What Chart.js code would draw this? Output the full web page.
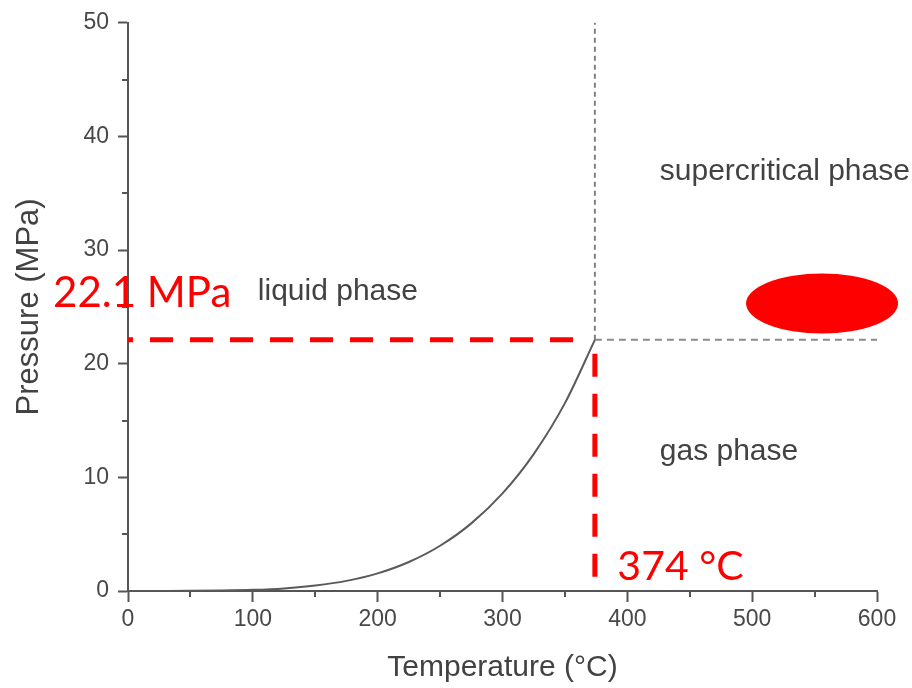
<!DOCTYPE html>
<html>
<head>
<meta charset="utf-8">
<title>Phase diagram of water</title>
<script src="https://cdn.jsdelivr.net/npm/chart.js@4/dist/chart.umd.min.js"></script>
<style>
  html, body { margin: 0; padding: 0; background: #ffffff; }
  canvas { display: block; }
</style>
</head>
<body>
<canvas id="phase" width="912" height="688"></canvas>
<script>
// Saturation (boiling) curve of water, temperature in °C and pressure in MPa
const temperatureC = [0, 25, 50, 75, 100, 125, 150, 175, 200, 225, 250, 275, 300, 325, 350, 374];
const pressureMPa  = [0.0006, 0.003, 0.012, 0.039, 0.10, 0.23, 0.48, 0.89, 1.55, 2.55, 3.98, 5.95, 8.59, 12.05, 16.53, 22.1];

// Critical point
const criticalT = 374;
const criticalP = 22.1;

// Axis ranges and tick steps
const xRange = [0, 600];
const yRange = [0, 50];
const xMajorStep = 100;
const yMajorStep = 10;

// Region names and highlighted values
const phaseNames = ['liquid phase', 'supercritical phase', 'gas phase'];
const criticalLabels = [criticalP + ' MPa', criticalT + ' °C'];

const AXIS_GREY = '#555555';
const TEXT_GREY = '#424242';
const RED = '#ff0000';
const SANS = "'Liberation Sans', Arial, Helvetica, sans-serif";

Chart.defaults.font.family = SANS;

// Positions of the free-floating text, given in data units
const textItems = [
  { text: phaseNames[0], x: 104, y: 25.6, font: '30px ' + SANS, color: TEXT_GREY },
  { text: phaseNames[1], x: 426, y: 36.2, font: '30px ' + SANS, color: TEXT_GREY },
  { text: phaseNames[2], x: 426, y: 11.5, font: '30px ' + SANS, color: TEXT_GREY },
  { text: criticalLabels[0], x: -60, y: 25.0, font: '42px Lato, Carlito, sans-serif', color: RED },
  { text: criticalLabels[1], x: 392, y: 0.96, font: '41px Lato, Carlito, sans-serif', color: RED }
];
const blob = { x: 556, y: 25.3, rx: 76, ry: 30, color: RED };

// Short unlabelled ticks halfway between the labelled ones
const minorTicks = {
  id: 'minorTicks',
  afterDraw(chart) {
    const { ctx, scales: { x, y } } = chart;
    ctx.save();
    ctx.strokeStyle = AXIS_GREY;
    ctx.lineWidth = 2;
    ctx.beginPath();
    for (let v = xRange[0] + xMajorStep / 2; v < xRange[1]; v += xMajorStep) {
      const px = Math.round(x.getPixelForValue(v));
      ctx.moveTo(px, x.top);
      ctx.lineTo(px, x.top + 6);
    }
    for (let v = yRange[0] + yMajorStep / 2; v < yRange[1]; v += yMajorStep) {
      const py = Math.round(y.getPixelForValue(v));
      ctx.moveTo(y.right, py);
      ctx.lineTo(y.right - 6, py);
    }
    ctx.stroke();
    ctx.restore();
  }
};

// Region labels, critical values and the filled red ellipse
const annotations = {
  id: 'annotations',
  afterDraw(chart) {
    const { ctx, scales: { x, y } } = chart;
    ctx.save();
    ctx.textAlign = 'left';
    ctx.textBaseline = 'alphabetic';
    textItems.forEach(t => {
      ctx.font = t.font;
      ctx.fillStyle = t.color;
      ctx.fillText(t.text, x.getPixelForValue(t.x), y.getPixelForValue(t.y));
    });
    ctx.fillStyle = blob.color;
    ctx.beginPath();
    ctx.ellipse(x.getPixelForValue(blob.x), y.getPixelForValue(blob.y), blob.rx, blob.ry, 0, 0, Math.PI * 2);
    ctx.fill();
    ctx.restore();
  }
};

const curve = temperatureC.map((t, i) => ({ x: t, y: pressureMPa[i] }));

new Chart(document.getElementById('phase'), {
  type: 'scatter',
  data: {
    datasets: [
      {
        label: 'saturation curve',
        data: curve,
        showLine: true,
        borderColor: '#5a5a5a',
        borderWidth: 2,
        pointRadius: 0,
        cubicInterpolationMode: 'monotone'
      },
      {
        label: 'critical isotherm',
        data: [{ x: criticalT, y: criticalP }, { x: criticalT, y: yRange[1] }],
        showLine: true,
        borderColor: '#808080',
        borderWidth: 2,
        borderDash: [5, 4],
        pointRadius: 0
      },
      {
        label: 'critical isobar',
        data: [{ x: criticalT, y: criticalP }, { x: xRange[1], y: criticalP }],
        showLine: true,
        borderColor: '#8a8a8a',
        borderWidth: 2,
        borderDash: [7, 5],
        pointRadius: 0
      },
      {
        label: 'critical pressure guide',
        data: [{ x: 0, y: criticalP }, { x: 365, y: criticalP }],
        showLine: true,
        borderColor: RED,
        borderWidth: 5,
        borderDash: [23, 17],
        borderDashOffset: 18,
        borderCapStyle: 'butt',
        pointRadius: 0
      },
      {
        label: 'critical temperature guide',
        data: [{ x: criticalT, y: criticalP }, { x: criticalT, y: 0 }],
        showLine: true,
        borderColor: RED,
        borderWidth: 5,
        borderDash: [23, 17],
        borderDashOffset: 26,
        borderCapStyle: 'butt',
        pointRadius: 0
      }
    ]
  },
  options: {
    responsive: false,
    animation: false,
    devicePixelRatio: 1,
    layout: { padding: { top: 20, right: 35, left: 0, bottom: 0 } },
    plugins: {
      legend: { display: false },
      tooltip: { enabled: false }
    },
    scales: {
      x: {
        type: 'linear',
        min: xRange[0],
        max: xRange[1],
        afterFit(scale) { scale.height = 97; },
        border: { display: true, color: AXIS_GREY, width: 2 },
        grid: { drawOnChartArea: false, drawTicks: true, tickLength: 11, tickColor: AXIS_GREY, tickWidth: 2 },
        ticks: { stepSize: xMajorStep, color: '#484848', font: { size: 23 }, padding: 4, maxRotation: 0 },
        title: {
          display: true,
          text: 'Temperature (°C)',
          color: TEXT_GREY,
          font: { size: 30, lineHeight: 1 },
          padding: { top: 0, bottom: 5 }
        }
      },
      y: {
        type: 'linear',
        min: yRange[0],
        max: yRange[1],
        afterFit(scale) { scale.width = 128; },
        border: { display: true, color: AXIS_GREY, width: 2 },
        grid: { drawOnChartArea: false, drawTicks: true, tickLength: 10, tickColor: AXIS_GREY, tickWidth: 2 },
        ticks: { stepSize: yMajorStep, color: '#484848', font: { size: 23 }, padding: 9 },
        title: {
          display: true,
          text: 'Pressure (MPa)',
          color: TEXT_GREY,
          font: { size: 31, lineHeight: 1 },
          padding: { top: 14, bottom: 0 }
        }
      }
    }
  },
  plugins: [minorTicks, annotations]
});
</script>
</body>
</html>
